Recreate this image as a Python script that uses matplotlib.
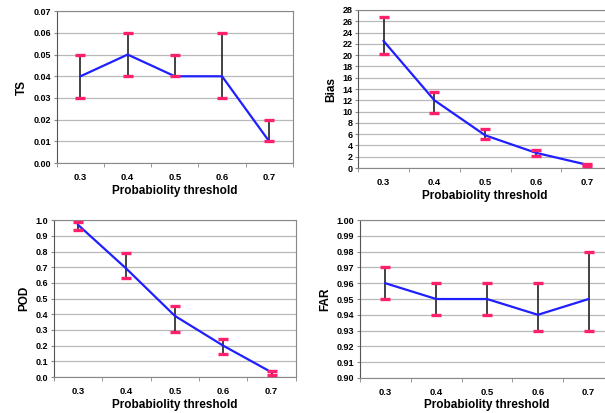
import numpy as np
import matplotlib.pyplot as plt

plt.rcParams['font.family'] = ['Liberation Sans', 'DejaVu Sans']
plt.rcParams['font.weight'] = 'bold'
plt.rcParams['axes.labelweight'] = 'bold'

thresholds = ['0.3', '0.4', '0.5', '0.6', '0.7']

ts_val = [0.04, 0.05, 0.04, 0.04, 0.01]
ts_hi = [0.05, 0.06, 0.05, 0.06, 0.02]
ts_lo = [0.03, 0.04, 0.04, 0.03, 0.01]

bias_val = [22.5, 12.0, 5.8, 2.7, 0.6]
bias_hi = [26.8, 13.5, 7.0, 3.2, 0.8]
bias_lo = [20.2, 9.8, 5.2, 2.2, 0.4]

pod_val = [0.97, 0.69, 0.39, 0.20, 0.03]
pod_hi = [0.99, 0.79, 0.45, 0.24, 0.04]
pod_lo = [0.94, 0.63, 0.29, 0.15, 0.01]

far_val = [0.96, 0.95, 0.95, 0.94, 0.95]
far_hi = [0.97, 0.96, 0.96, 0.96, 0.98]
far_lo = [0.95, 0.94, 0.94, 0.93, 0.93]


def panel(ax, val, hi, lo, ylab, ymin, ymax, step, fmt):
    x = np.arange(len(thresholds))
    ax.vlines(x, lo, hi, color='#222222', lw=1.2, zorder=3)
    ax.plot(x, val, color='#1f1fff', lw=1.6, zorder=4)
    ax.plot(x, hi, ls='none', marker='_', ms=7, mew=2.4, color='#ff1f6f', zorder=5)
    ax.plot(x, lo, ls='none', marker='_', ms=7, mew=2.4, color='#ff1f6f', zorder=5)
    ticks = np.arange(ymin, ymax + step / 2, step)
    ax.set_ylim(ymin, ymax)
    ax.set_yticks(ticks)
    ax.set_yticklabels([fmt % t for t in ticks], fontsize=6.5)
    ax.yaxis.grid(True, color='#b8b8b8', lw=0.9)
    ax.set_axisbelow(True)
    ax.set_xlim(-0.5, len(thresholds) - 0.5)
    ax.set_xticks(x)
    ax.set_xticklabels(thresholds, fontsize=6.8)
    ax.set_xticks(np.arange(-0.5, len(thresholds)), minor=True)
    ax.tick_params(axis='x', which='major', length=0, pad=7)
    ax.tick_params(axis='x', which='minor', length=3, color='#888888')
    ax.tick_params(axis='y', length=2, pad=2, color='#888888')
    for s in ax.spines.values():
        s.set_color('#888888')
    ax.spines['left'].set_color('#555555')
    ax.set_xlabel('Probabiolity threshold', fontsize=8.5, labelpad=2)
    ax.set_ylabel(ylab, fontsize=8.5, labelpad=4)


fig = plt.figure(figsize=(6.05, 4.13), dpi=100)

ax1 = fig.add_axes([0.094, 0.605, 0.390, 0.368])
panel(ax1, ts_val, ts_hi, ts_lo, 'TS', 0.0, 0.07, 0.01, '%.2f')

ax2 = fig.add_axes([0.592, 0.593, 0.42, 0.383])
panel(ax2, bias_val, bias_hi, bias_lo, 'Bias', 0, 28, 2, '%d')

ax3 = fig.add_axes([0.089, 0.087, 0.400, 0.380])
panel(ax3, pod_val, pod_hi, pod_lo, 'POD', 0.0, 1.0, 0.1, '%.1f')

ax4 = fig.add_axes([0.595, 0.085, 0.42, 0.382])
panel(ax4, far_val, far_hi, far_lo, 'FAR', 0.90, 1.00, 0.01, '%.2f')

fig.savefig('out.png', dpi=100)
